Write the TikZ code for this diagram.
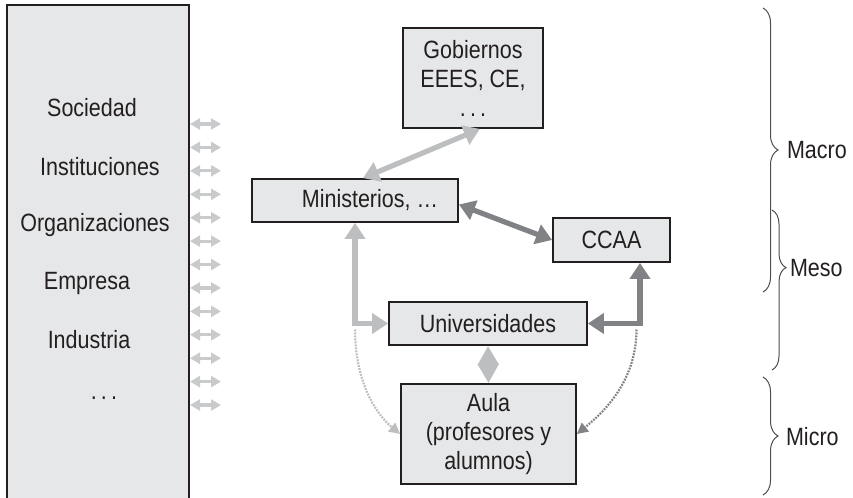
\documentclass[tikz,border=0pt]{standalone}
\usepackage{fontspec}
\setmainfont[FakeStretch=0.86]{Liberation Sans}
\usetikzlibrary{arrows.meta,decorations.pathreplacing}
\definecolor{boxgray}{HTML}{E6E7E8}
\definecolor{lightarrow}{HTML}{BCBEC0}
\definecolor{paleArrow}{HTML}{C9CACC}
\definecolor{darkarrow}{HTML}{808285}
\definecolor{inkgray}{HTML}{231F20}

\begin{document}
\begin{tikzpicture}[x=0.5pt, y=-0.5pt, font=\fontsize{12.5}{14.5}\selectfont, text=inkgray]
		\tikzstyle{every node}=[align=center]
		\tikzstyle{box}=[draw=inkgray, line width=0.9pt, fill=boxgray, inner sep=0pt]
		\tikzstyle{bigarrow}=[line width=2.6pt, {Triangle[length=8pt,width=10pt]}-{Triangle[length=8pt,width=10pt]}]
		\tikzstyle{smallarrow}=[paleArrow, line width=1.6pt, {Triangle[length=5pt,width=5.5pt]}-{Triangle[length=5pt,width=5.5pt]}]
		\tikzstyle{dotarrow}=[line width=1.1pt, dash pattern=on 0.9pt off 0.6pt, -{Triangle[length=5.5pt,width=5.5pt]}]
		\tikzstyle{levelbrace}=[draw=inkgray!80, line width=0.5pt, decorate]
		\useasboundingbox (0,0) rectangle (853,498);

			% entorno
			\node[box, minimum width=91pt, minimum height=250pt] (entorno) at (98,255) {};
			\node (sociedad) at (92,108) {Sociedad};
			\node (instituciones) at (100,167) {Instituciones};
			\node (organizaciones) at (95,225) {Organizaciones};
			\node (empresa) at (87,283) {Empresa};
			\node (industria) at (89,340) {Industria};
			\node (otros) at (104,398) {.\,.\,.};

			\foreach \i in {0,...,12} {
				\coordinate (izq\i) at (190,{124+23.42*\i});
				\coordinate (der\i) at (221,{124+23.42*\i});
				\draw[smallarrow] (izq\i) -- (der\i);
			}

			% niveles
			\node[box, minimum width=70pt, minimum height=50pt] (gobiernos) at (473,78) {Gobiernos\\EEES, CE,\\.\,.\,.};
			\node[box, minimum width=103pt, minimum height=21.5pt] (ministerios) at (355,200.5) {\hspace*{15pt}Ministerios, …};
			\node[box, minimum width=58.5pt, minimum height=22pt] (ccaa) at (611.5,240) {CCAA};
			\node[box, minimum width=99pt, minimum height=21.5pt] (univ) at (488,323.5) {Universidades};
			\node[box, minimum width=87.5pt, minimum height=50pt] (aula) at (488.5,434) {Aula\\(profesores y\\alumnos)};

			\draw[bigarrow, lightarrow] ([xshift=3.5pt]gobiernos.south) -- ([xshift=4pt]ministerios.north);
			\draw[bigarrow, darkarrow] ([yshift=-2pt]ministerios.east) -- (ccaa.west);
			\draw[bigarrow, lightarrow] (ministerios.south) |- (univ.west);
			\draw[bigarrow, darkarrow] ([xshift=14.25pt]ccaa.south) |- (univ.east);
			\draw[lightarrow, line width=2.6pt, {Triangle[length=9.5pt,width=10pt]}-{Triangle[length=9.5pt,width=10pt]}] (univ.south) -- (aula.north);

			\coordinate (codoizq) at ([yshift=-3pt]ministerios.south |- univ.west);
			\coordinate (cododer) at ([xshift=12.5pt,yshift=-3pt]ccaa.south |- univ.east);
			\draw[dotarrow, lightarrow] (codoizq) .. controls +(0,55) and +(-22,-18) .. (aula.west);
			\draw[dotarrow, darkarrow] (cododer) .. controls +(0,55) and +(22,-18) .. (aula.east);

			% macro / meso / micro
			\draw[levelbrace, decoration={brace, amplitude=7.5pt}] (763,8) -- (763,292);
			\draw[levelbrace, decoration={brace, amplitude=7pt, aspect=0.36}] (772,210) -- (772,370);
			\draw[levelbrace, decoration={brace, amplitude=7.5pt}] (763,377) -- (763,495);
			\node[anchor=west] (macro) at (780,150) {Macro};
			\node[anchor=west] (meso) at (783,268) {Meso};
			\node[anchor=west] (micro) at (779,437) {Micro};
		\end{tikzpicture}
\end{document}
